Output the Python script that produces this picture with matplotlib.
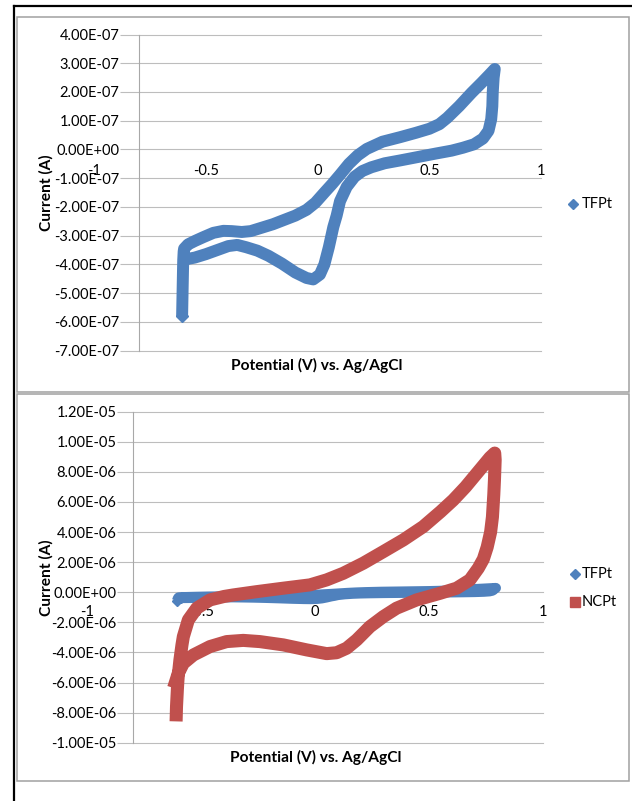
import numpy as np
import matplotlib
matplotlib.use("Agg")
import matplotlib.pyplot as plt
from matplotlib.lines import Line2D
from matplotlib.patches import Rectangle
from matplotlib.ticker import FuncFormatter

plt.rcParams["font.family"] = ["Lato", "DejaVu Sans"]

W, H = 632, 801

# ---- TFPt cyclic voltammogram: potential (V vs Ag/AgCl), current (units of 1e-7 A)
tfpt_potential = [
    -0.607, -0.606, -0.605, -0.604, -0.603, -0.602, -0.600,
    -0.598, -0.580, -0.549, -0.512, -0.467, -0.422, -0.385, -0.340, -0.300,
    -0.250, -0.200, -0.150, -0.100, -0.050, -0.010, 0.030, 0.065, 0.100,
    0.140, 0.180, 0.220, 0.290, 0.370, 0.440, 0.500, 0.545, 0.580, 0.634,
    0.689, 0.734, 0.770, 0.793,
    0.788, 0.784, 0.782, 0.777, 0.765, 0.740, 0.700, 0.650, 0.600, 0.530,
    0.450, 0.370, 0.300, 0.240, 0.200, 0.165, 0.130, 0.100, 0.085, 0.070,
    0.050, 0.030, 0.010, -0.020, -0.050, -0.100, -0.160, -0.220, -0.270,
    -0.320, -0.360, -0.400, -0.450, -0.500, -0.550, -0.590,
]
tfpt_current_e7 = [
    -5.80, -5.40, -5.00, -4.60, -4.20, -3.85, -3.55,
    -3.45, -3.30, -3.18, -3.05, -2.90, -2.83, -2.84, -2.87, -2.84,
    -2.72, -2.60, -2.45, -2.30, -2.10, -1.85, -1.50, -1.20, -0.88,
    -0.50, -0.20, 0.02, 0.27, 0.43, 0.58, 0.72, 0.88, 1.10, 1.51,
    1.97, 2.32, 2.61, 2.80,
    2.50, 2.00, 1.50, 1.05, 0.65, 0.38, 0.18, 0.06, -0.04, -0.14,
    -0.26, -0.38, -0.48, -0.62, -0.75, -0.95, -1.30, -1.80, -2.30, -2.70,
    -3.40, -4.00, -4.35, -4.52, -4.47, -4.28, -3.97, -3.70, -3.52,
    -3.40, -3.32, -3.36, -3.50, -3.64, -3.76, -3.82,
]
tfpt_current = np.array(tfpt_current_e7) * 1e-7

# ---- NCPt cyclic voltammogram: potential (V), current (units of 1e-6 A)
ncpt_potential = [
    -0.610, -0.609, -0.607, -0.605, -0.603, -0.601,
    -0.594, -0.585, -0.579, -0.557, -0.520, -0.462, -0.400, -0.360, -0.257,
    -0.140, -0.023, 0.050, 0.123, 0.211, 0.299, 0.387, 0.474, 0.550, 0.606,
    0.660, 0.722, 0.767, 0.788,
    0.790, 0.787, 0.784, 0.778, 0.770, 0.755, 0.738, 0.716, 0.679, 0.621,
    0.548, 0.445, 0.357, 0.299, 0.240, 0.182, 0.138, 0.094, 0.050, -0.038,
    -0.140, -0.243, -0.316, -0.389, -0.462, -0.535, -0.579, -0.601, -0.613,
]
ncpt_current_e6 = [
    -8.15, -7.60, -7.00, -6.40, -5.90, -5.50,
    -4.50, -3.50, -2.95, -1.84, -1.06, -0.51, -0.28, -0.18, 0.04,
    0.27, 0.49, 0.82, 1.26, 1.93, 2.70, 3.48, 4.36, 5.35, 6.13,
    7.00, 8.13, 8.95, 9.25,
    8.80, 7.50, 6.50, 5.00, 4.00, 3.00, 2.20, 1.60, 0.82, 0.27,
    -0.07, -0.51, -1.06, -1.62, -2.29, -3.17, -3.72, -4.02, -4.08, -3.83,
    -3.50, -3.28, -3.20, -3.28, -3.61, -4.17, -4.72, -5.38, -5.95,
]
ncpt_current = np.array(ncpt_current_e6) * 1e-6

# ---- axis ticks
x_ticks = [-1, -0.5, 0, 0.5, 1]
x_tick_labels = ["-1", "-0.5", "0", "0.5", "1"]
top_y_ticks = [-7e-7, -6e-7, -5e-7, -4e-7, -3e-7, -2e-7, -1e-7, 0.0,
               1e-7, 2e-7, 3e-7, 4e-7]
bottom_y_ticks = [-1e-5, -8e-6, -6e-6, -4e-6, -2e-6, 0.0,
                  2e-6, 4e-6, 6e-6, 8e-6, 1e-5, 1.2e-5]

BLUE = "#4F81BD"
RED = "#C0504D"
GRID = "#BDBDBD"
AXIS = "#A8A8A8"
FRAME = "#A0A0A0"
FS = 10.5
TITLE_FS = 11.2


def fx(px):
    return px / W


def fy(py):
    return 1 - py / H


def rect(left, top, right, bottom):
    return [fx(left), fy(bottom), (right - left) / W, (bottom - top) / H]


fig = plt.figure(figsize=(W / 100, H / 100), dpi=100)

# outer black border (top and left) and chart-area frames
fig.add_artist(Line2D([fx(14), fx(632)], [fy(6), fy(6)], color="black", lw=1.6))
fig.add_artist(Line2D([fx(14), fx(14)], [fy(6), fy(801)], color="black", lw=1.6))
for top, bottom in [(17, 392), (394, 781)]:
    fig.add_artist(Rectangle((fx(17), fy(bottom)), fx(629) - fx(17),
                             fy(top) - fy(bottom), transform=fig.transFigure,
                             fill=False, edgecolor=FRAME, lw=1.1))


def style_axes(ax, yticks, tick_len_px, xlab_offset_px):
    ax.set_xlim(-0.8, 1.0)
    ax.set_ylim(yticks[0], yticks[-1])
    ax.set_facecolor("none")
    for side in ["top", "right", "bottom"]:
        ax.spines[side].set_visible(False)
    ax.spines["left"].set_color(AXIS)
    ax.spines["left"].set_linewidth(0.8)
    ax.set_yticks(yticks)
    ax.yaxis.set_major_formatter(FuncFormatter(lambda v, p: f"{v:.2E}"))
    ax.tick_params(axis="y", length=tick_len_px * 0.72, width=0.8, color=GRID,
                   pad=0.5, labelsize=FS)
    ax.set_xticks([])
    ax.grid(axis="y", color=GRID, linewidth=0.8)
    for gl in ax.get_ygridlines():
        gl.set_clip_on(False)
    ax.set_axisbelow(True)
    for xv, lab in zip(x_ticks, x_tick_labels):
        ax.annotate(lab, xy=(xv, 0), xycoords="data",
                    xytext=(0, -xlab_offset_px), textcoords="offset pixels",
                    ha="center", va="center", fontsize=FS,
                    annotation_clip=False)


# ---- top chart: TFPt
ax1 = fig.add_axes(rect(139, 34.5, 541, 350.7))
style_axes(ax1, top_y_ticks, 19, 22)
ax1.plot(tfpt_potential, tfpt_current, color=BLUE, lw=8.6,
         solid_joinstyle="round", solid_capstyle="butt",
         marker="D", ms=6.1, markevery=[0, len(tfpt_potential) - 1], zorder=3)

fig.text(fx(316.5), fy(365), "Potential (V) vs. Ag/AgCl", ha="center",
         va="center", fontsize=TITLE_FS, fontweight="bold")
fig.text(fx(46), fy(193), "Current (A)", ha="center", va="center",
         rotation=90, fontsize=TITLE_FS, fontweight="bold")

fig.add_artist(Line2D([fx(573)], [fy(204)], marker="D", ms=5.3, color=BLUE,
                      linestyle="none", transform=fig.transFigure))
fig.text(fx(582), fy(204), "TFPt", ha="left", va="center", fontsize=FS)

# ---- bottom chart: TFPt and NCPt
ax2 = fig.add_axes(rect(133, 411.7, 543, 742.7))
style_axes(ax2, bottom_y_ticks, 16, 20)
ax2.plot(tfpt_potential, tfpt_current, color=BLUE, lw=7.4,
         solid_joinstyle="round", solid_capstyle="butt",
         marker="D", ms=5.4, markevery=[0, len(tfpt_potential) - 1], zorder=3)
ax2.plot(ncpt_potential, ncpt_current, color=RED, lw=9.4,
         solid_joinstyle="round", solid_capstyle="projecting", zorder=4)

fig.text(fx(315.5), fy(757), "Potential (V) vs. Ag/AgCl", ha="center",
         va="center", fontsize=TITLE_FS, fontweight="bold")
fig.text(fx(46), fy(577.5), "Current (A)", ha="center", va="center",
         rotation=90, fontsize=TITLE_FS, fontweight="bold")

fig.add_artist(Line2D([fx(574.5)], [fy(574.3)], marker="D", ms=5.3, color=BLUE,
                      linestyle="none", transform=fig.transFigure))
fig.text(fx(582), fy(574.3), "TFPt", ha="left", va="center", fontsize=FS)
fig.add_artist(Line2D([fx(575)], [fy(602.3)], marker="s", ms=7.2, color=RED,
                      linestyle="none", transform=fig.transFigure))
fig.text(fx(582), fy(602.3), "NCPt", ha="left", va="center", fontsize=FS)

fig.savefig("out.png", dpi=100)
